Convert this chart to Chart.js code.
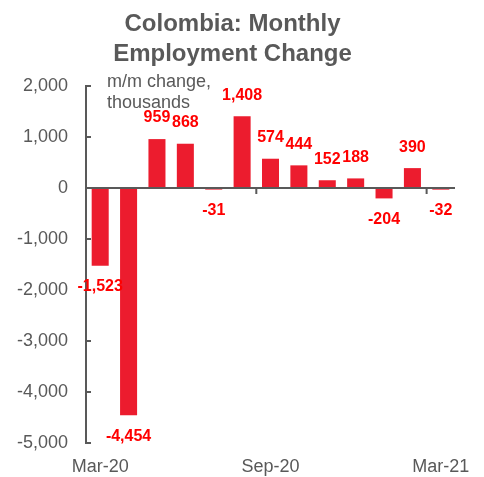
<!DOCTYPE html>
<html>
<head>
<meta charset="utf-8">
<script src="https://cdn.jsdelivr.net/npm/chart.js@4"></script>
<style>
  html, body { margin: 0; padding: 0; background: #fff; }
  #wrap { width: 484px; height: 477px; }
</style>
</head>
<body>
<div id="wrap"><canvas id="myChart"></canvas></div>
<script>
// monthly data, Mar-20 .. Mar-21 (thousands)
const months = ['Mar-20', 'Apr-20', 'May-20', 'Jun-20', 'Jul-20', 'Aug-20', 'Sep-20',
                'Oct-20', 'Nov-20', 'Dec-20', 'Jan-21', 'Feb-21', 'Mar-21'];
const changes = [-1523, -4454, 959, 868, -31, 1408, 574, 444, 152, 188, -204, 390, -32];
const shownLabels = ['Mar-20', 'Sep-20', 'Mar-21'];
const unitNote = ['m/m change,', 'thousands'];

const gray = '#595959';
const barRed = '#ec1c2e';
const labelRed = '#ff0000';
const fontFamily = '"Liberation Sans", Arial, sans-serif';

// zero line, inward ticks, value labels and the unit note
const extras = {
    id: 'extras',
    afterDatasetsDraw(chart) {
        const { ctx, chartArea, scales } = chart;
        const x = scales.x, y = scales.y;
        const y0 = y.getPixelForValue(0);
        const step = x.getPixelForValue(1) - x.getPixelForValue(0);
        ctx.save();
        ctx.strokeStyle = gray;
        ctx.lineWidth = 2;
        ctx.beginPath();
        ctx.moveTo(chartArea.left, y0);
        ctx.lineTo(chartArea.right, y0);
        // category boundary ticks every 6 months
        for (let i = 6; i < months.length; i += 6) {
            const bx = x.getPixelForValue(i) - step / 2;
            ctx.moveTo(bx, y0);
            ctx.lineTo(bx, y0 + 6);
        }
        // y ticks pointing into the plot
        y.ticks.forEach(t => {
            const ty = y.getPixelForValue(t.value);
            ctx.moveTo(chartArea.left, ty);
            ctx.lineTo(chartArea.left + 5, ty);
        });
        ctx.stroke();

        // value labels
        ctx.fillStyle = labelRed;
        ctx.font = 'bold 16px ' + fontFamily;
        ctx.textAlign = 'center';
        ctx.textBaseline = 'middle';
        chart.getDatasetMeta(0).data.forEach((bar, i) => {
            const v = changes[i];
            const ly = v >= 0 ? bar.y - 21 : bar.y + 21;
            ctx.fillText(v.toLocaleString('en-US'), bar.x, ly);
        });

        // unit note
        ctx.fillStyle = gray;
        ctx.font = '18px ' + fontFamily;
        ctx.textAlign = 'left';
        unitNote.forEach((line, i) => {
            ctx.fillText(line, chartArea.left + 21, chartArea.top - 4 + i * 21);
        });
        ctx.restore();
    }
};

const ctx = document.getElementById('myChart').getContext('2d');
const myChart = new Chart(ctx, {
    type: 'bar',
    data: {
        labels: months,
        datasets: [{
            data: changes,
            backgroundColor: barRed,
            borderWidth: 0,
            barPercentage: 1,
            categoryPercentage: 0.6
        }]
    },
    plugins: [extras],
    options: {
        responsive: true,
        maintainAspectRatio: false,
        animation: false,
        layout: { padding: { left: 10, right: 29, top: 0, bottom: 0 } },
        plugins: {
            legend: { display: false },
            tooltip: { enabled: false },
            title: {
                display: true,
                text: ['Colombia: Monthly', 'Employment Change'],
                color: gray,
                font: { family: fontFamily, size: 24, weight: 'bold', lineHeight: 1.25 },
                padding: { top: 9, bottom: 17 }
            }
        },
        scales: {
            x: {
                grid: { display: false },
                border: { display: false },
                afterFit: s => { s.height = 34; },
                ticks: {
                    autoSkip: false,
                    maxRotation: 0,
                    padding: 5,
                    color: gray,
                    font: { family: fontFamily, size: 18 },
                    callback: function (value) {
                        const lab = this.getLabelForValue(value);
                        return shownLabels.includes(lab) ? lab : '';
                    }
                }
            },
            y: {
                min: -5000,
                max: 2000,
                grid: { display: false },
                border: { display: true, color: gray, width: 2 },
                afterFit: s => { s.width = 76; },
                ticks: {
                    stepSize: 1000,
                    padding: 10,
                    color: gray,
                    font: { family: fontFamily, size: 18 },
                    callback: v => v.toLocaleString('en-US')
                }
            }
        }
    }
});
</script>
</body>
</html>
